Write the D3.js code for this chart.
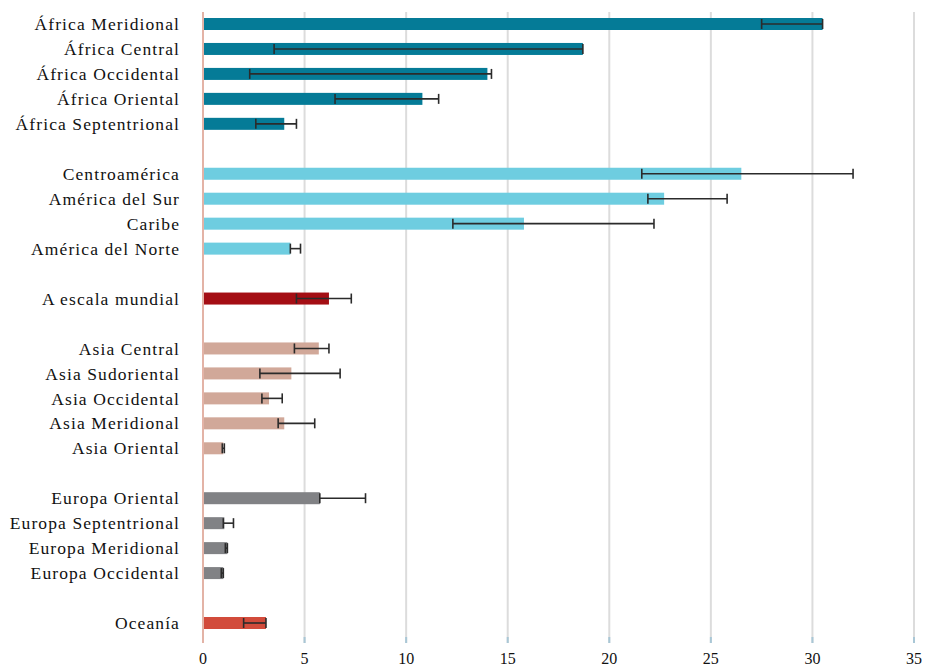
<!DOCTYPE html>
<html>
<head>
<meta charset="utf-8">
<script src="https://cdn.jsdelivr.net/npm/d3@7"></script>
<style>
  body { margin: 0; background: #fff; }
  svg text { font-family: "Liberation Serif", "Times New Roman", Times, "DejaVu Serif", "Noto Serif", serif; }
</style>
</head>
<body>
<div id="chart"></div>
<script>
// rows, top to bottom; "gapN" entries are empty spacer rows between groups
const rows = [
  "África Meridional", "África Central", "África Occidental", "África Oriental", "África Septentrional", "gap1",
  "Centroamérica", "América del Sur", "Caribe", "América del Norte", "gap2",
  "A escala mundial", "gap3",
  "Asia Central", "Asia Sudoriental", "Asia Occidental", "Asia Meridional", "Asia Oriental", "gap4",
  "Europa Oriental", "Europa Septentrional", "Europa Meridional", "Europa Occidental", "gap5",
  "Oceanía"
];
const regions = rows.filter(r => !r.startsWith("gap"));
const values = [30.5, 18.7, 14.0, 10.8, 4.0,
                26.5, 22.7, 15.8, 4.3,
                6.2,
                5.7, 4.35, 3.25, 4.0, 1.0,
                5.75, 1.05, 1.2, 1.0,
                3.1];
const lows   = [27.5, 3.5, 2.3, 6.5, 2.6,
                21.6, 21.9, 12.3, 4.3,
                4.6,
                4.5, 2.8, 2.9, 3.7, 0.95,
                5.75, 1.0, 1.1, 0.9,
                2.0];
const highs  = [30.5, 18.7, 14.2, 11.6, 4.6,
                32.0, 25.8, 22.2, 4.8,
                7.3,
                6.2, 6.75, 3.9, 5.5, 1.05,
                8.0, 1.5, 1.2, 1.0,
                3.1];
const groups = ["africa", "africa", "africa", "africa", "africa",
                "america", "america", "america", "america",
                "world",
                "asia", "asia", "asia", "asia", "asia",
                "europe", "europe", "europe", "europe",
                "oceania"];
const xTicks = [0, 5, 10, 15, 20, 25, 30, 35];

const colors = {
  africa: "#057b97", america: "#6ecde0", world: "#a40e14",
  asia: "#d1a899", europe: "#818285", oceania: "#d24b3b"
};

const W = 929, H = 668;
const data = regions.map((r, i) => ({ region: r, value: values[i], low: lows[i], high: highs[i], group: groups[i] }));

const svg = d3.select("#chart").append("svg")
  .attr("width", W).attr("height", H);

const x = d3.scaleLinear().domain([0, 35]).range([203, 914]);
const y = d3.scalePoint().domain(rows).range([24, 623]);

const plotTop = 12, plotBottom = 643, barH = 12;

// vertical gridlines
svg.append("g").selectAll("line")
  .data(xTicks.slice(1))
  .enter().append("line")
    .attr("x1", d => x(d)).attr("x2", d => x(d))
    .attr("y1", plotTop).attr("y2", plotBottom)
    .attr("stroke", "#dcdcdc").attr("stroke-width", 2);

// small tick marks at the foot of each gridline
svg.append("g").selectAll("line")
  .data(xTicks)
  .enter().append("line")
    .attr("x1", d => x(d)).attr("x2", d => x(d))
    .attr("y1", plotBottom - 6).attr("y2", plotBottom)
    .attr("stroke", "#a9c7d6").attr("stroke-width", 2);

// x axis labels
svg.append("g").selectAll("text")
  .data(xTicks)
  .enter().append("text")
    .attr("x", d => x(d)).attr("y", 664)
    .attr("text-anchor", "middle")
    .attr("font-size", "16px")
    .attr("fill", "#111")
    .text(d => d);

// bars
svg.append("g").selectAll("rect")
  .data(data)
  .enter().append("rect")
    .attr("x", x(0))
    .attr("y", d => y(d.region) - barH / 2)
    .attr("width", d => x(d.value) - x(0))
    .attr("height", barH)
    .attr("fill", d => colors[d.group]);

// error bars
const err = svg.append("g").selectAll("g")
  .data(data)
  .enter().append("g")
    .attr("stroke", "#2b2b2b")
    .attr("stroke-width", 1.6);
err.append("line")
  .attr("x1", d => x(d.low)).attr("x2", d => x(d.high))
  .attr("y1", d => y(d.region)).attr("y2", d => y(d.region));
err.append("line")
  .attr("x1", d => x(d.low)).attr("x2", d => x(d.low))
  .attr("y1", d => y(d.region) - 5).attr("y2", d => y(d.region) + 5);
err.append("line")
  .attr("x1", d => x(d.high)).attr("x2", d => x(d.high))
  .attr("y1", d => y(d.region) - 5).attr("y2", d => y(d.region) + 5);

// zero line
svg.append("line")
  .attr("x1", x(0)).attr("x2", x(0))
  .attr("y1", plotTop).attr("y2", plotBottom)
  .attr("stroke", "#e3b3a6").attr("stroke-width", 2);

// region labels
svg.append("g").selectAll("text")
  .data(data)
  .enter().append("text")
    .attr("x", 180)
    .attr("y", d => y(d.region))
    .attr("dy", "0.35em")
    .attr("text-anchor", "end")
    .attr("font-size", "17.5px")
    .attr("letter-spacing", "1.1px")
    .attr("fill", "#111")
    .text(d => d.region);
</script>
</body>
</html>
